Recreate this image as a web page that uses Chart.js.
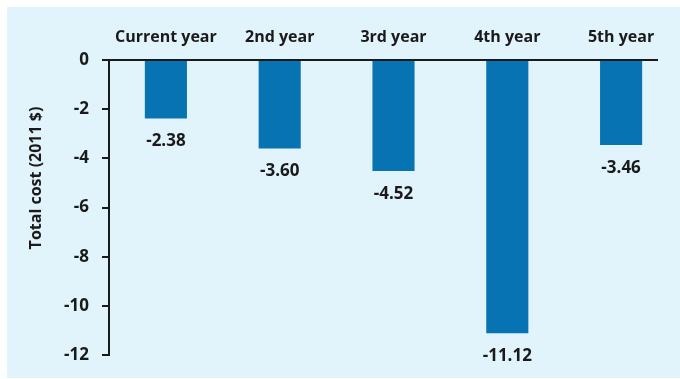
<!DOCTYPE html>
<html>
<head>
<meta charset="utf-8">
<script src="https://cdn.jsdelivr.net/npm/chart.js@4"></script>
<style>
  html, body { margin: 0; padding: 0; background: #ffffff; }
  #wrap { position: relative; width: 680px; height: 379px; }
  #panel { position: absolute; left: 7px; top: 7px; width: 673px; height: 371px; background: #e1f3fb; }
  #c { position: absolute; left: 0; top: 0; }
</style>
</head>
<body>
<div id="wrap">
  <div id="panel"></div>
  <canvas id="c" width="680" height="379"></canvas>
</div>
<script>
const categories = ["Current year", "2nd year", "3rd year", "4th year", "5th year"];
const totalCost = [-2.38, -3.60, -4.52, -11.12, -3.46];
const valueLabels = ["-2.38", "-3.60", "-4.52", "-11.12", "-3.46"];
const yTitle = "Total cost (2011 $)";

const FONT = "'Open Sans', 'Noto Sans', sans-serif";
const TEXT = "#1a1a1a";

const extras = {
  id: "extras",
  afterDatasetsDraw(chart) {
    const ctx = chart.ctx;
    const area = chart.chartArea;
    const y = chart.scales.y;
    ctx.save();
    // zero line
    const y0 = y.getPixelForValue(0);
    ctx.strokeStyle = "#1a1a1a";
    ctx.lineWidth = 2;
    ctx.beginPath();
    ctx.moveTo(area.left, y0);
    ctx.lineTo(area.right - 20, y0);
    ctx.stroke();
    // value labels
    ctx.fillStyle = TEXT;
    ctx.font = "bold 17px " + FONT;
    ctx.textAlign = "center";
    ctx.textBaseline = "middle";
    const meta = chart.getDatasetMeta(0);
    meta.data.forEach((bar, i) => {
      ctx.fillText(valueLabels[i], bar.x, bar.y + 23);
    });
    // y title
    ctx.translate(36, 178);
    ctx.rotate(-Math.PI / 2);
    ctx.font = "bold 16px " + FONT;
    ctx.fillText(yTitle, 0, 0);
    ctx.restore();
  }
};

new Chart(document.getElementById("c"), {
  type: "bar",
  data: {
    labels: categories,
    datasets: [{
      data: totalCost,
      backgroundColor: "#0873b3",
      borderWidth: 0,
      barPercentage: 0.74,
      categoryPercentage: 0.5
    }]
  },
  options: {
    responsive: false,
    animation: false,
    layout: { padding: { top: 0, right: 2, bottom: 24, left: 0 } },
    plugins: { legend: { display: false }, tooltip: { enabled: false } },
    scales: {
      x: {
        position: "top",
        grid: { display: false, drawTicks: false },
        border: { display: false },
        ticks: { color: TEXT, font: { family: FONT, size: 16, weight: "bold" }, padding: 13, maxRotation: 0, autoSkip: false },
        afterFit(s) { s.height = 60; }
      },
      y: {
        min: -12,
        max: 0,
        ticks: { stepSize: 2, color: TEXT, font: { family: FONT, size: 17, weight: "bold" }, padding: 13 },
        grid: { drawOnChartArea: false, drawTicks: true, tickLength: 7, color: "#1a1a1a", lineWidth: 2 },
        border: { display: true, color: "#1a1a1a", width: 2 },
        afterFit(s) { s.width = 109; }
      }
    }
  },
  plugins: [extras]
});
</script>
</body>
</html>
